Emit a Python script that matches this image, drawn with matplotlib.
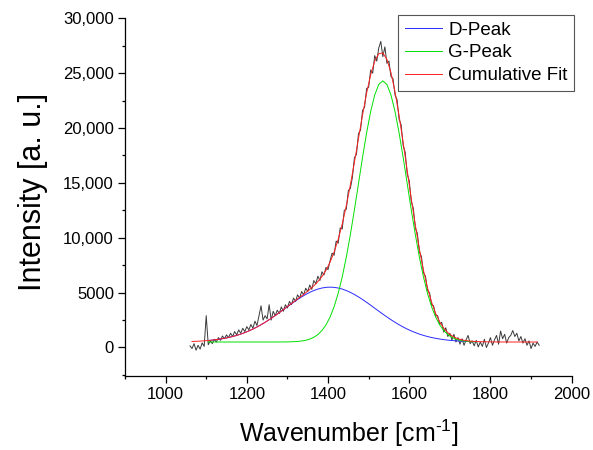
"""Raman spectrum with D/G peak deconvolution (Gaussian fit)."""

import numpy as np
import matplotlib
matplotlib.use('Agg')
import matplotlib.pyplot as plt
from matplotlib.ticker import FuncFormatter, MultipleLocator

plt.rcParams['font.family'] = ['Liberation Sans', 'DejaVu Sans']
plt.rcParams['mathtext.fontset'] = 'custom'
plt.rcParams['mathtext.rm'] = 'Liberation Sans'

# measured spectrum, 1060 .. 1920 cm-1 every 5 cm-1
SPEC_START, SPEC_STEP = 1060, 5
SPECTRUM = [
    150, -100, 350, -250, 200, -150, 420, 100, 2900, 250,
    600, 350, 750, 500, 900, 650, 1050, 800, 1150, 900,
    1300, 1000, 1450, 1150, 1600, 1300, 1750, 1450, 1900, 1600,
    2100, 1750, 2400, 2000, 2900, 3800, 2500, 2900, 2600, 3900,
    2500, 3300, 2900, 3400, 3100, 3700, 3300, 3900, 3600, 4200,
    3900, 4500, 4200, 4800, 4500, 5100, 4800, 5400, 5100, 5700,
    5300, 6100, 5800, 6500, 6100, 6900, 6600, 7300, 7100, 7900,
    8600, 8400, 9700, 9500, 10900, 10800, 12500, 12600, 14300, 14500,
    15500, 17300, 17600, 19500, 19800, 21600, 21900, 23600, 23700, 25300,
    25000, 26600, 26100, 27300, 27900, 26500, 27400, 25900, 26100, 24700,
    24500, 23000, 22600, 20800, 20300, 18400, 17800, 15800, 15200, 13300,
    12700, 10900, 10400, 8700, 8300, 6800, 6500, 5200, 5000, 3900,
    3800, 2900, 2900, 2100, 2300, 1400, 1800, 1000, 1300, 700,
    1200, 500, 900, 300, 800, 200, 700, 1100, 350, 600,
    150, 650, 50, 500, 100, 750, 0, 400, 900, 200,
    700, 1100, 300, 1500, 800, 1200, 400, 900, 1100, 1550,
    1000, 1300, 600, 1000, 400, 800, 200, 600, -100, 400,
    100, 500, 200,
]

# fitted components, 1105 .. 1765 cm-1 every 10 cm-1
PEAK_START, PEAK_STEP = 1105, 10
D_PEAK = [
    637, 673, 717, 771, 835, 910, 999, 1103, 1221, 1357,
    1509, 1680, 1868, 2074, 2296, 2533, 2783, 3043, 3311, 3582,
    3852, 4117, 4371, 4610, 4830, 5024, 5190, 5323, 5421, 5480,
    5500, 5480, 5421, 5323, 5190, 5024, 4830, 4610, 4371, 4117,
    3852, 3582, 3311, 3043, 2783, 2533, 2296, 2074, 1868, 1680,
    1509, 1357, 1221, 1103, 999, 910, 835, 771, 717, 673,
    637, 607, 583, 564, 549, 537, 528,
]
G_PEAK = [
    500, 500, 500, 500, 500, 500, 500, 500, 500, 500,
    500, 500, 500, 500, 500, 500, 501, 502, 504, 508,
    515, 529, 552, 592, 658, 764, 930, 1180, 1545, 2064,
    2775, 3720, 4934, 6436, 8228, 10284, 12550, 14935, 17317, 19557,
    21504, 23013, 23972, 24300, 23972, 23013, 21504, 19557, 17317, 14935,
    12550, 10284, 8228, 6436, 4934, 3720, 2775, 2064, 1545, 1180,
    930, 764, 658, 592, 552, 529, 515,
]

# cumulative fit, 1065 .. 1915 cm-1 every 10 cm-1
FIT_START, FIT_STEP = 1065, 10
CUMULATIVE = [
    549, 564, 583, 607,
    637, 673, 717, 771, 835, 910, 999, 1103, 1221, 1357,
    1509, 1680, 1868, 2074, 2296, 2533, 2784, 3045, 3315, 3590,
    3867, 4146, 4423, 4702, 4988, 5288, 5620, 6003, 6466, 7044,
    7775, 8700, 9855, 11259, 12918, 14808, 16880, 19045, 21188, 23174,
    24856, 26095, 26783, 26843, 26255, 25046, 23300, 21131, 18685, 16115,
    13559, 11141, 8949, 7039, 5433, 4130, 3110, 2335, 1762, 1353,
    1067, 871, 741, 656, 601, 566, 543,
    529, 519, 512, 508, 505, 503, 502, 501,
    500, 500, 500, 500, 500, 500, 500,
]


def axis_for(start, step, values):
    return start + step * np.arange(len(values))


def intensity_fmt(v, _pos):
    # Origin style: thousands separator only from 10,000 up
    if abs(v) >= 10000:
        return f'{v:,.0f}'
    return f'{v:.0f}'


def main():
    fig = plt.figure(figsize=(5.93, 4.5), dpi=100)
    ax = fig.add_axes([0.2108, 0.1644, 0.7532, 0.7949])

    ax.plot(axis_for(SPEC_START, SPEC_STEP, SPECTRUM), SPECTRUM,
            color='#3a3a3a', linewidth=0.7, zorder=2)
    d_line, = ax.plot(axis_for(PEAK_START, PEAK_STEP, D_PEAK), D_PEAK,
                      color='#2a2aff', linewidth=0.7, zorder=3)
    g_line, = ax.plot(axis_for(PEAK_START, PEAK_STEP, G_PEAK), G_PEAK,
                      color='#00e000', linewidth=0.7, zorder=3)
    fit_line, = ax.plot(axis_for(FIT_START, FIT_STEP, CUMULATIVE), CUMULATIVE,
                        color='#ff2020', linewidth=0.7, zorder=4)

    ax.set_xlim(900, 2000)
    ax.set_ylim(-2600, 30000)
    ax.xaxis.set_major_locator(MultipleLocator(200))
    ax.xaxis.set_minor_locator(MultipleLocator(100))
    ax.yaxis.set_major_locator(MultipleLocator(5000))
    ax.yaxis.set_minor_locator(MultipleLocator(2500))
    ax.yaxis.set_major_formatter(FuncFormatter(intensity_fmt))

    for side in ('top', 'right'):
        ax.spines[side].set_visible(False)
    for side in ('left', 'bottom'):
        ax.spines[side].set_linewidth(0.9)
    ax.tick_params(which='major', direction='out', length=5, width=0.9,
                   labelsize=12, pad=3)
    ax.tick_params(which='minor', direction='out', length=2.5, width=0.9)

    ax.set_xlabel('Wavenumber [cm$^{\\text{-1}}$]', fontsize=18)
    ax.set_ylabel('Intensity [a. u.]', fontsize=22)
    ax.xaxis.set_label_coords(0.5, -0.116)
    ax.yaxis.set_label_coords(-0.173, 0.515)

    leg = ax.legend([d_line, g_line, fit_line],
                    ['D-Peak', 'G-Peak', 'Cumulative Fit'],
                    loc='upper right', bbox_to_anchor=(574 / 593, 1 - 15 / 450),
                    bbox_transform=fig.transFigure, borderaxespad=0,
                    fontsize=13.5, handlelength=2.0, handletextpad=0.3,
                    labelspacing=0.3, borderpad=0.35, fancybox=False,
                    framealpha=1)
    leg.get_frame().set_edgecolor('#555555')
    leg.get_frame().set_linewidth(0.8)

    fig.savefig('out.png', dpi=100)
    plt.close(fig)


if __name__ == '__main__':
    main()
